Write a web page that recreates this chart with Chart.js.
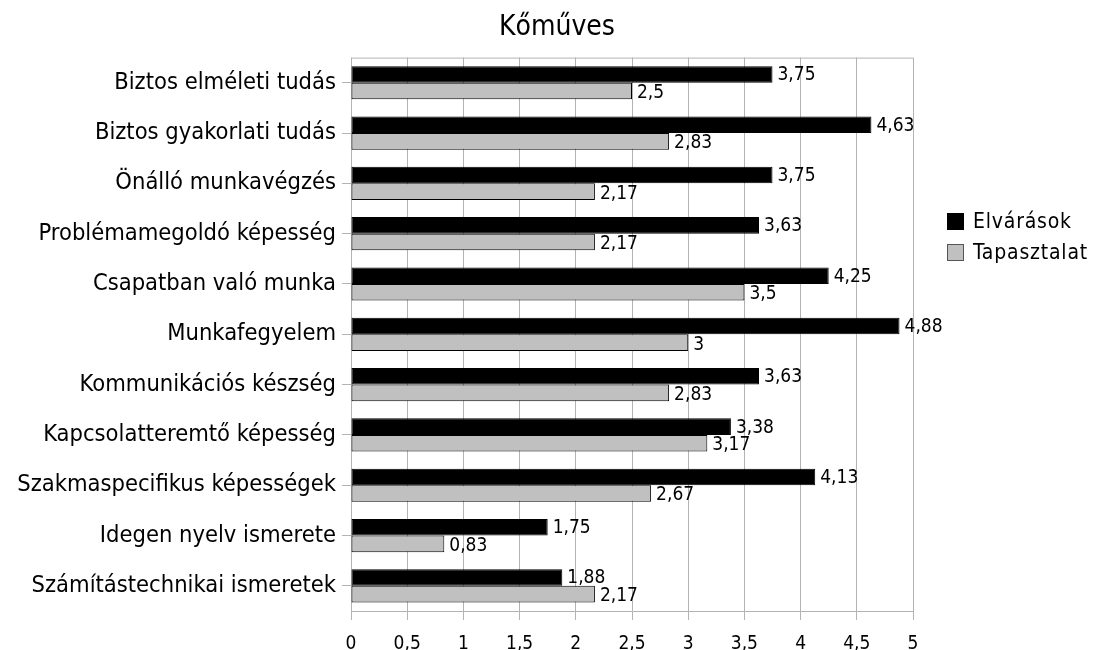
<!DOCTYPE html>
<html>
<head>
<meta charset="utf-8">
<script src="https://cdn.jsdelivr.net/npm/chart.js@4"></script>
<style>
  body { margin: 0; background: #fff; }
  #wrap { position: relative; width: 1100px; height: 650px; }
  #legend { position: absolute; left: 947px; top: 206px; font-family: 'DejaVu Sans Condensed', 'DejaVu Sans', sans-serif; font-size: 21px; letter-spacing: 0.8px; color: #000; }
  #legend div { height: 31px; line-height: 31px; white-space: nowrap; }
  #legend span.box { display: inline-block; width: 17px; height: 17px; margin-right: 9px; vertical-align: -2px; box-sizing: border-box; }
</style>
</head>
<body>
<div id="wrap">
  <canvas id="chart" width="1100" height="650"></canvas>
  <div id="legend"></div>
</div>
<script>
// adatok
const categories = [
    "Biztos elméleti tudás",
    "Biztos gyakorlati tudás",
    "Önálló munkavégzés",
    "Problémamegoldó képesség",
    "Csapatban való munka",
    "Munkafegyelem",
    "Kommunikációs készség",
    "Kapcsolatteremtő képesség",
    "Szakmaspecifikus képességek",
    "Idegen nyelv ismerete",
    "Számítástechnikai ismeretek"
];
const elvarasok = [3.75, 4.63, 3.75, 3.63, 4.25, 4.88, 3.63, 3.38, 4.13, 1.75, 1.88];
const tapasztalat = [2.5, 2.83, 2.17, 2.17, 3.5, 3, 2.83, 3.17, 2.67, 0.83, 2.17];
const seriesNames = ["Elvárások", "Tapasztalat"];
const seriesColors = ["#000000", "#c0c0c0"];
const xTicks = [0, 0.5, 1, 1.5, 2, 2.5, 3, 3.5, 4, 4.5, 5];

const FONT = "'DejaVu Sans Condensed', 'DejaVu Sans', sans-serif";
const gridColor = "#b3b3b3";

// keret a rajzterulet tetejen + cim kozepre a teljes vasznon
const frame = {
    id: 'frame',
    beforeDraw(chart) {
        if (chart.titleBlock) { chart.titleBlock.left = 0; chart.titleBlock.right = 1114; }
    },
    beforeDatasetsDraw(chart) {
        const a = chart.chartArea;
        const ctx = chart.ctx;
        ctx.save();
        ctx.strokeStyle = gridColor;
        ctx.lineWidth = 1;
        ctx.beginPath();
        ctx.moveTo(a.left, a.top + 0.5);
        ctx.lineTo(a.right, a.top + 0.5);
        ctx.stroke();
        ctx.restore();
    }
};

// ertekek kiirasa az oszlopok vegere
const valueLabels = {
    id: 'valueLabels',
    afterDatasetsDraw(chart) {
        const ctx = chart.ctx;
        ctx.save();
        ctx.font = "19px " + FONT;
        ctx.fillStyle = "#000";
        ctx.textBaseline = "middle";
        ctx.textAlign = "left";
        chart.data.datasets.forEach((ds, i) => {
            const meta = chart.getDatasetMeta(i);
            meta.data.forEach((bar, j) => {
                const txt = String(ds.data[j]).replace('.', ',');
                ctx.fillText(txt, bar.x + 5, bar.y + (i === 0 ? 1 : 2));
            });
        });
        ctx.restore();
    }
};

const ctx = document.getElementById('chart').getContext('2d');
const myChart = new Chart(ctx, {
    type: 'bar',
    data: {
        labels: categories,
        datasets: [
            {
                label: seriesNames[0],
                data: elvarasok,
                backgroundColor: seriesColors[0],
                borderColor: '#000',
                borderWidth: 1,
                borderSkipped: false
            },
            {
                label: seriesNames[1],
                data: tapasztalat,
                backgroundColor: seriesColors[1],
                borderColor: '#000',
                borderWidth: 1,
                borderSkipped: false
            }
        ]
    },
    options: {
        indexAxis: 'y',
        responsive: false,
        animation: false,
        devicePixelRatio: 1,
        categoryPercentage: 0.66,
        barPercentage: 1.0,
        layout: { padding: { left: 0, right: 187, top: 0, bottom: 0 } },
        plugins: {
            legend: { display: false },
            tooltip: { enabled: false },
            title: {
                display: true,
                text: 'Kőműves',
                color: '#000',
                font: { family: FONT, size: 28, weight: 'normal', lineHeight: 1.2 },
                padding: { top: 11, bottom: 13 }
            }
        },
        scales: {
            x: {
                min: 0,
                max: 5,
                afterBuildTicks: (scale) => { scale.ticks = xTicks.map(v => ({ value: v })); },
                afterFit: (scale) => { scale.height = 39; },
                grid: { color: gridColor, tickLength: 9, tickColor: gridColor },
                border: { color: gridColor },
                ticks: {
                    color: '#000',
                    padding: 13,
                    font: { family: FONT, size: 19 },
                    callback: (v) => String(v).replace('.', ',')
                }
            },
            y: {
                afterFit: (scale) => { scale.width = 351; },
                grid: { drawOnChartArea: false, offset: false, tickLength: 9, tickColor: gridColor },
                border: { display: false },
                ticks: {
                    color: '#000',
                    padding: 6,
                    font: { family: FONT, size: 23.5 }
                }
            }
        }
    },
    plugins: [frame, valueLabels]
});

// jelmagyarazat
const legend = document.getElementById('legend');
seriesNames.forEach((name, i) => {
    const row = document.createElement('div');
    const box = document.createElement('span');
    box.className = 'box';
    box.style.background = seriesColors[i];
    box.style.border = '1px solid ' + (i === 0 ? '#000' : '#555');
    row.appendChild(box);
    row.appendChild(document.createTextNode(name));
    legend.appendChild(row);
});
</script>
</body>
</html>
